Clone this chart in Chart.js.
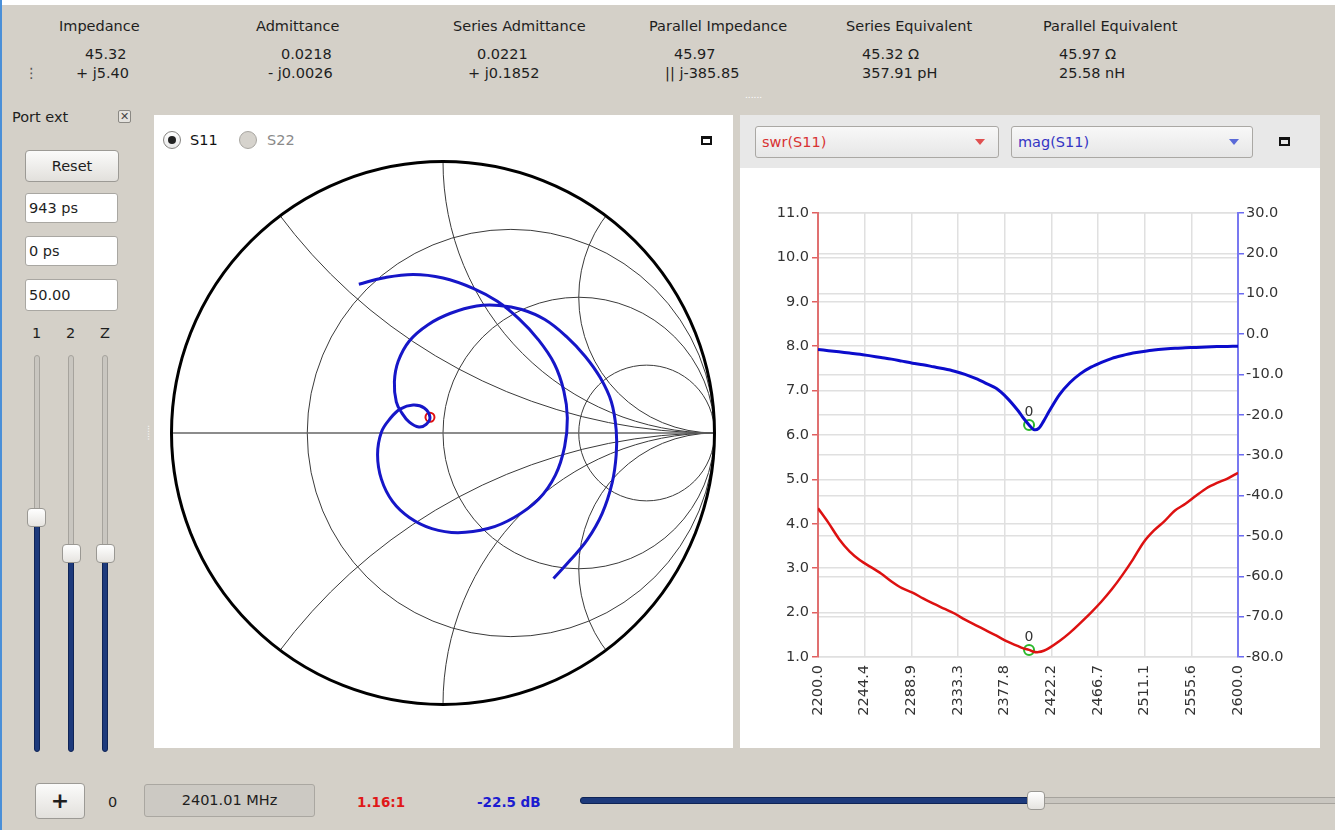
<!DOCTYPE html>
<html>
<head>
<meta charset="utf-8">
<script src="https://cdn.jsdelivr.net/npm/chart.js@4.4.0/dist/chart.umd.min.js"></script>
<style>
body { margin:0; width:1335px; height:830px; background:#d4d0c8; position:relative; overflow:hidden;
  font-family:"DejaVu Sans", sans-serif; font-size:14.5px; color:#1e1e1e; }
.a { position:absolute; white-space:nowrap; line-height:18px; }
.btn { position:absolute; border:1px solid #9c9a95; border-radius:4px;
  background:linear-gradient(#fbfbfa,#e2e0dc); text-align:center; }
.inp { position:absolute; background:#fff; border:1px solid #a9a7a2; border-radius:3px; box-sizing:border-box;
  padding-left:3px; line-height:28px; }
.track { position:absolute; width:6px; border-radius:3px; box-sizing:border-box; }
.grey { background:#c9c6c0; border:1px solid #a6a39d; }
.blue { background:#1d3a7c; border:1px solid #0f2456; }
.handle { position:absolute; width:19px; height:19px; border-radius:4px; box-sizing:border-box;
  border:1px solid #9a9893; background:linear-gradient(#ffffff,#e6e4e0); }
.combo { position:absolute; height:32px; border:1px solid #aaa8a4; border-radius:3px; box-sizing:border-box;
  background:linear-gradient(#f8f8f8,#e6e6e6); line-height:30px; padding-left:6px; }
.tri { position:absolute; width:0; height:0; border-left:5px solid transparent; border-right:5px solid transparent; }
.maxi { position:absolute; width:11px; height:9px; box-sizing:border-box; border:2px solid #111; border-top-width:3px; }
</style>
</head>
<body>
<div class="a" style="left:0;top:0;width:1335px;height:5px;background:#fff"></div>
<div class="a" style="left:0;top:0;width:2px;height:830px;background:#4a8fd8"></div>

<!-- header -->
<div class="a" style="left:59px;top:17px">Impedance</div>
<div class="a" style="left:256px;top:17px">Admittance</div>
<div class="a" style="left:453px;top:17px">Series Admittance</div>
<div class="a" style="left:649px;top:17px">Parallel Impedance</div>
<div class="a" style="left:846px;top:17px">Series Equivalent</div>
<div class="a" style="left:1043px;top:17px">Parallel Equivalent</div>

<div class="a" style="left:85px;top:45px">45.32</div>
<div class="a" style="left:281px;top:45px">0.0218</div>
<div class="a" style="left:477px;top:45px">0.0221</div>
<div class="a" style="left:674px;top:45px">45.97</div>
<div class="a" style="left:862px;top:45px">45.32 Ω</div>
<div class="a" style="left:1059px;top:45px">45.97 Ω</div>

<div class="a" style="left:24px;top:64px;color:#555">⋮</div>
<div class="a" style="left:76px;top:64px">+ j5.40</div>
<div class="a" style="left:268px;top:64px">- j0.0026</div>
<div class="a" style="left:468px;top:64px">+ j0.1852</div>
<div class="a" style="left:665px;top:64px">|| j-385.85</div>
<div class="a" style="left:862px;top:64px">357.91 pH</div>
<div class="a" style="left:1059px;top:64px">25.58 nH</div>
<div class="a" style="left:745px;top:86px;font-size:9px;color:#fff">......</div>

<!-- left panel -->
<div class="a" style="left:12px;top:108px">Port ext</div>
<div class="a" style="left:118px;top:110px;width:13px;height:13px;border:1px solid #8a8883;border-radius:2px;box-sizing:border-box;font-size:11px;line-height:11px;text-align:center;color:#444;background:#e4e2de">✕</div>
<div class="btn" style="left:25px;top:150px;width:92px;height:30px;line-height:30px">Reset</div>
<div class="inp" style="left:25px;top:193px;width:93px;height:30px">943 ps</div>
<div class="inp" style="left:25px;top:236px;width:93px;height:30px">0 ps</div>
<div class="inp" style="left:25px;top:279px;width:93px;height:32px;line-height:30px">50.00</div>
<div class="a" style="left:32px;top:324px">1</div>
<div class="a" style="left:66px;top:324px">2</div>
<div class="a" style="left:100px;top:324px">Z</div>

<div class="track grey" style="left:34px;top:355px;height:165px"></div>
<div class="track blue" style="left:34px;top:516px;height:236px"></div>
<div class="handle" style="left:27px;top:508px"></div>
<div class="track grey" style="left:68px;top:355px;height:200px"></div>
<div class="track blue" style="left:68px;top:552px;height:200px"></div>
<div class="handle" style="left:62px;top:544px"></div>
<div class="track grey" style="left:102px;top:355px;height:200px"></div>
<div class="track blue" style="left:102px;top:552px;height:200px"></div>
<div class="handle" style="left:96px;top:544px"></div>
<div class="a" style="left:141px;top:425px;font-size:8px;color:#fff;writing-mode:vertical-lr">......</div>

<!-- smith panel -->
<div class="a" style="left:154px;top:115px;width:579px;height:633px;background:#fff"></div>
<div class="a" style="left:163px;top:131px;width:18px;height:18px;border-radius:50%;border:1px solid #858380;box-sizing:border-box;background:linear-gradient(#fff,#e8e8e8)"></div>
<div class="a" style="left:168px;top:136px;width:8px;height:8px;border-radius:50%;background:#222"></div>
<div class="a" style="left:190px;top:131px;color:#111">S11</div>
<div class="a" style="left:239px;top:131px;width:18px;height:18px;border-radius:50%;border:1px solid #a9a7a2;box-sizing:border-box;background:#d6d3cd"></div>
<div class="a" style="left:267px;top:131px;color:#8a8a8a">S22</div>
<div class="maxi" style="left:701px;top:136px"></div>
<div class="a" style="left:165px;top:155px;width:556px;height:556px"><canvas id="smith" width="556" height="556"></canvas></div>
<div class="a" style="left:735px;top:425px;font-size:8px;color:#fff;writing-mode:vertical-lr">......</div>

<!-- right panel -->
<div class="a" style="left:740px;top:115px;width:580px;height:53px;background:#e8e8e8"></div>
<div class="a" style="left:740px;top:168px;width:580px;height:580px;background:#fff"></div>
<div class="combo" style="left:755px;top:126px;width:244px;color:#d83232">swr(S11)</div>
<div class="tri" style="left:975px;top:139px;border-top:6px solid #e05050"></div>
<div class="combo" style="left:1011px;top:126px;width:242px;color:#3434c4">mag(S11)</div>
<div class="tri" style="left:1229px;top:139px;border-top:6px solid #5a6ad8"></div>
<div class="maxi" style="left:1279px;top:137px"></div>
<div class="a" style="left:740px;top:168px;width:580px;height:580px"><canvas id="plot" width="580" height="580"></canvas></div>

<!-- bottom bar -->
<div class="btn" style="left:35px;top:783px;width:48px;height:34px;line-height:33px;font-size:22px;font-weight:bold">+</div>
<div class="a" style="left:108px;top:793px">0</div>
<div class="a" style="left:144px;top:784px;width:171px;height:33px;border:1px solid #aaa7a1;border-radius:3px;box-sizing:border-box;background:#ccc9c3;text-align:center;line-height:31px">2401.01 MHz</div>
<div class="a" style="left:357px;top:793px;color:#e01818;font-weight:bold;font-size:13.5px">1.16:1</div>
<div class="a" style="left:477px;top:793px;color:#1c1cd0;font-weight:bold;font-size:13.5px">-22.5 dB</div>
<div class="a" style="left:580px;top:797px;width:455px;height:7px;border-radius:3px;background:#1d3a7c;border:1px solid #0f2456;box-sizing:border-box"></div>
<div class="a" style="left:1035px;top:797px;width:310px;height:7px;background:#c9c6c0;border:1px solid #a6a39d;box-sizing:border-box"></div>
<div class="handle" style="left:1027px;top:791px;width:18px"></div>

<script>
// sweep data
const freqMHz = [2200, 2210, 2220, 2230, 2240, 2250, 2260, 2270, 2280, 2290, 2300, 2310, 2320, 2330, 2340,
  2350, 2360, 2370, 2380, 2390, 2395, 2401, 2405, 2410, 2415, 2420, 2430, 2440, 2450, 2460, 2470,
  2480, 2490, 2500, 2510, 2520, 2530, 2540, 2550, 2560, 2570, 2580, 2590, 2600];
const swrS11 = [4.35, 4.02, 3.66, 3.38, 3.18, 3.03, 2.88, 2.70, 2.55, 2.45, 2.32, 2.20, 2.09, 1.98, 1.84,
  1.72, 1.60, 1.48, 1.35, 1.25, 1.20, 1.16, 1.12, 1.11, 1.14, 1.20, 1.36, 1.55, 1.77, 2.00, 2.25,
  2.53, 2.85, 3.20, 3.58, 3.85, 4.06, 4.30, 4.45, 4.63, 4.80, 4.92, 5.02, 5.15];
const magS11 = [-3.8, -4.1, -4.4, -4.7, -5.0, -5.4, -5.8, -6.2, -6.7, -7.2, -7.6, -8.1, -8.6, -9.2, -10.0,
  -11.0, -12.2, -13.5, -15.8, -18.8, -20.6, -22.5, -23.6, -23.4, -21.5, -19.2, -15.0, -12.0, -9.8, -8.2, -7.0,
  -6.0, -5.3, -4.7, -4.3, -3.95, -3.7, -3.5, -3.4, -3.3, -3.2, -3.1, -3.05, -3.0];
const xTicks = [2200.0, 2244.4, 2288.9, 2333.3, 2377.8, 2422.2, 2466.7, 2511.1, 2555.6, 2600.0];
const markerFreq = 2401.01;
const markerSwr = 1.16;
const markerMag = -22.5;

// reflection coefficient trace on the smith chart (re, im)
const smithRe = [-0.310, -0.221, -0.110, 0.000, 0.111, 0.200, 0.280, 0.350, 0.410, 0.445, 0.458, 0.448, 0.414,
  0.352, 0.262, 0.166, 0.055, -0.041, -0.124, -0.186, -0.227, -0.241, -0.227, -0.193, -0.158, -0.110, -0.069,
  -0.048, -0.062, -0.089, -0.124, -0.151, -0.172, -0.179, -0.165, -0.124, -0.055, 0.028, 0.124, 0.207, 0.290,
  0.375, 0.455, 0.524, 0.579, 0.620, 0.638, 0.638, 0.623, 0.586, 0.531, 0.469, 0.407];
const smithIm = [0.548, 0.571, 0.584, 0.571, 0.533, 0.485, 0.420, 0.345, 0.255, 0.155, 0.055, -0.050, -0.155,
  -0.244, -0.311, -0.352, -0.367, -0.352, -0.311, -0.252, -0.170, -0.080, 0.003, 0.055, 0.088, 0.103, 0.092,
  0.058, 0.032, 0.022, 0.040, 0.073, 0.115, 0.189, 0.264, 0.339, 0.399, 0.441, 0.468, 0.470, 0.455,
  0.418, 0.355, 0.282, 0.204, 0.115, 0.010, -0.080, -0.184, -0.297, -0.394, -0.468, -0.536];
const smithMarker = [-0.048, 0.058];
const smithR = [1 / 3, 1, 3];   // resistance circles
const smithX = [0.5, 1, 2];     // reactance arcs

Chart.defaults.font.family = '"DejaVu Sans", sans-serif';
Chart.defaults.font.size = 14.5;
Chart.defaults.animation = false;

// smith grid drawn from the scales
const smithGrid = {
  id: 'smithGrid',
  beforeDatasetsDraw(chart) {
    const xs = chart.scales.x, ys = chart.scales.y, ctx = chart.ctx;
    const cx = xs.getPixelForValue(0), cy = ys.getPixelForValue(0);
    const R = xs.getPixelForValue(1) - cx;
    ctx.save();
    ctx.strokeStyle = '#3a3a3a';
    ctx.lineWidth = 1;
    smithR.forEach(r => {
      ctx.beginPath();
      ctx.arc(xs.getPixelForValue(r / (1 + r)), cy, R / (1 + r), 0, Math.PI * 2);
      ctx.stroke();
    });
    ctx.save();
    ctx.beginPath();
    ctx.arc(cx, cy, R, 0, Math.PI * 2);
    ctx.clip();
    smithX.forEach(x => {
      [1, -1].forEach(s => {
        ctx.beginPath();
        ctx.arc(xs.getPixelForValue(1), ys.getPixelForValue(s / x), R / x, 0, Math.PI * 2);
        ctx.stroke();
      });
    });
    ctx.restore();
    ctx.strokeStyle = '#666';
    ctx.lineWidth = 1.6;
    ctx.beginPath();
    ctx.moveTo(xs.getPixelForValue(-1), cy);
    ctx.lineTo(xs.getPixelForValue(1), cy);
    ctx.stroke();
    ctx.strokeStyle = '#000';
    ctx.lineWidth = 3;
    ctx.beginPath();
    ctx.arc(cx, cy, R, 0, Math.PI * 2);
    ctx.stroke();
    ctx.restore();
  }
};

new Chart(document.getElementById('smith'), {
  type: 'scatter',
  data: {
    datasets: [
      { data: smithRe.map((re, i) => ({ x: re, y: smithIm[i] })), showLine: true, borderColor: '#1616c8',
        borderWidth: 3, pointRadius: 0, tension: 0.4 },
      { data: [{ x: smithMarker[0], y: smithMarker[1] }], pointRadius: 4.5, pointBorderColor: '#e01010',
        pointBorderWidth: 2, pointBackgroundColor: 'rgba(0,0,0,0)' }
    ]
  },
  options: {
    responsive: false,
    layout: { padding: 5 },
    plugins: { legend: { display: false }, tooltip: { enabled: false } },
    scales: { x: { min: -1, max: 1, display: false }, y: { min: -1, max: 1, display: false } }
  },
  plugins: [smithGrid]
});

// "0" above each marker
const markerLabels = {
  id: 'markerLabels',
  afterDatasetsDraw(chart) {
    const ctx = chart.ctx;
    ctx.save();
    ctx.font = '14px "DejaVu Sans"';
    ctx.fillStyle = '#333';
    ctx.textAlign = 'center';
    ctx.textBaseline = 'bottom';
    [2, 3].forEach(i => {
      const p = chart.getDatasetMeta(i).data[0];
      ctx.fillText('0', p.x, p.y - 6);
    });
    ctx.restore();
  }
};

const gridCol = '#e0e0e0';
new Chart(document.getElementById('plot'), {
  type: 'line',
  data: {
    datasets: [
      { data: freqMHz.map((f, i) => ({ x: f, y: swrS11[i] })), yAxisID: 'ySwr', borderColor: '#dd1111',
        borderWidth: 2.5, pointRadius: 0, tension: 0.3 },
      { data: freqMHz.map((f, i) => ({ x: f, y: magS11[i] })), yAxisID: 'yMag', borderColor: '#0c0ccc',
        borderWidth: 3, pointRadius: 0, tension: 0.3 },
      { data: [{ x: markerFreq, y: markerSwr }], yAxisID: 'ySwr', showLine: false, pointRadius: 5,
        pointBorderColor: '#2cb82c', pointBorderWidth: 2, pointBackgroundColor: 'rgba(0,0,0,0)' },
      { data: [{ x: markerFreq, y: markerMag }], yAxisID: 'yMag', showLine: false, pointRadius: 5,
        pointBorderColor: '#2cb82c', pointBorderWidth: 2, pointBackgroundColor: 'rgba(0,0,0,0)' }
    ]
  },
  options: {
    responsive: false,
    layout: { padding: { top: 45 } },
    plugins: { legend: { display: false }, tooltip: { enabled: false } },
    scales: {
      x: {
        type: 'linear', min: 2200, max: 2600,
        afterBuildTicks: s => { s.ticks = xTicks.map(v => ({ value: v })); },
        afterFit: s => { s.height = 91; },
        grid: { color: gridCol, lineWidth: 1.5, drawTicks: false },
        border: { display: false },
        ticks: { minRotation: 90, maxRotation: 90, padding: 8, color: '#333', callback: v => v.toFixed(1) }
      },
      ySwr: {
        position: 'left', min: 1, max: 11,
        afterFit: s => { s.width = 78; },
        grid: { color: gridCol, lineWidth: 1.5, tickColor: '#e06060', tickLength: 6 },
        border: { color: '#e07070', width: 2 },
        ticks: { stepSize: 1, padding: 3, color: '#333', callback: v => v.toFixed(1) }
      },
      yMag: {
        position: 'right', min: -80, max: 30,
        afterFit: s => { s.width = 82; },
        grid: { color: gridCol, lineWidth: 1.5, tickColor: '#6a6af0', tickLength: 6 },
        border: { color: '#7878f0', width: 2 },
        ticks: { stepSize: 10, padding: 2, color: '#333', callback: v => v.toFixed(1) }
      }
    }
  },
  plugins: [markerLabels]
});
</script>
</body>
</html>
